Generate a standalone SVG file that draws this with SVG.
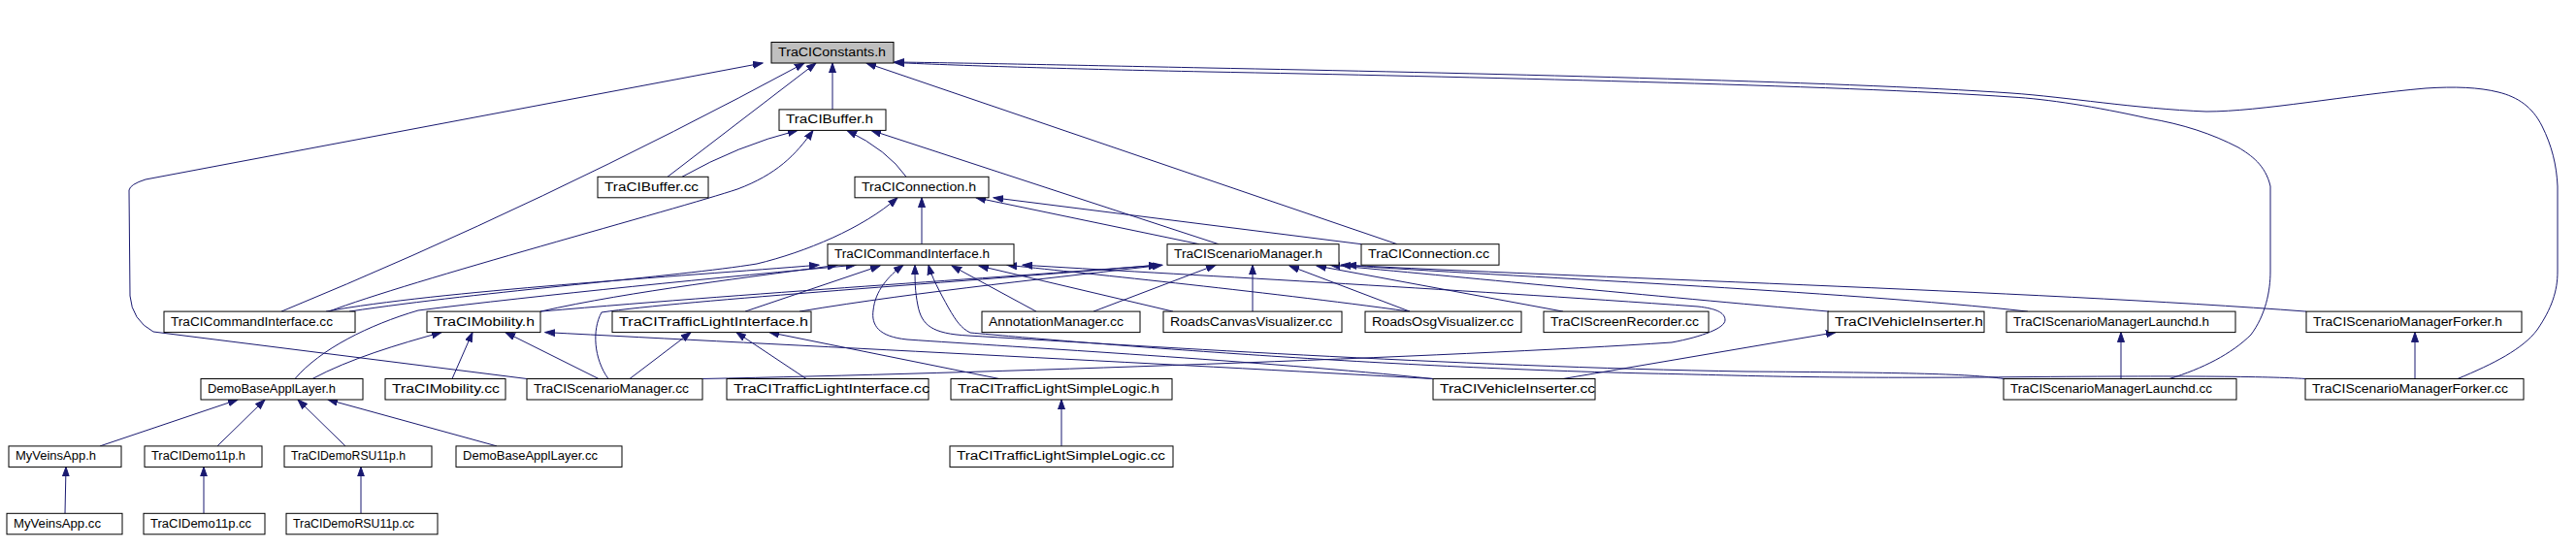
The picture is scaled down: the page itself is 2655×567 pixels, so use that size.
<svg xmlns="http://www.w3.org/2000/svg" width="2655" height="567" viewBox="0 0 2655 567">
<style>
.n rect{fill:#ffffff;stroke:#000000;stroke-width:1}
.n text{font-family:"Liberation Sans",Arial,sans-serif;font-size:12px;fill:#000000}
.root rect{fill:#bfbfbf}
.e path{fill:none;stroke:#191970;stroke-width:1;marker-end:url(#arr)}
</style>
<defs>
<marker id="arr" markerWidth="11" markerHeight="8" refX="10" refY="4" orient="auto" markerUnits="userSpaceOnUse">
<path d="M0,0.5 L10,4 L0,7.5 z" fill="#191970" stroke="#191970" stroke-width="1"/>
</marker>
</defs>
<rect width="2655" height="567" fill="#ffffff"/>
<g id="edges" class="e">
<path d="M858,112.9 L858,65"/>
<path d="M688,182.3 L841,65"/>
<path d="M290,321.1 Q560,210 829,65"/>
<path d="M543,390.5 L158,342 Q136,330 134,305 L133,196 Q134,190 150,185 L786,65"/>
<path d="M1440,251.7 L893,65"/>
<path d="M2236,390.5 C2270,380 2300,365 2320,345 C2335,325 2340,300 2340,280 L2340,192 C2335,170 2320,160 2307,152 C2280,138 2250,128 2214,122 C2160,110 2110,102 2073,100 C1900,88 1500,79 1244,74 C1100,71 1000,68 922,64.5"/>
<path d="M2533,390.5 C2570,375 2600,360 2615,340 C2630,318 2636,300 2636,280 L2636,192 C2635,170 2630,150 2620,130 C2610,110 2595,100 2575,95 C2555,90 2530,89 2500,91 C2420,98 2330,115 2274,115 C2200,112 2130,100 2073,96 C1900,84 1500,75 1244,70 C1100,67 1000,65 922,64"/>
<path d="M703,182.3 Q760,150 822,134.4"/>
<path d="M339,321.1 C420,290 700,215 760,195 C800,180 820,160 838,134.4"/>
<path d="M934,182.3 Q915,155 873,134.4"/>
<path d="M1256,251.7 L898,134.4"/>
<path d="M950,251.7 L950,203.8"/>
<path d="M360,321.1 C500,300 700,285 780,272 C830,260 890,235 925,203.8"/>
<path d="M1236,251.7 L1006,203.8"/>
<path d="M1403,251.7 L1024,203.8"/>
<path d="M336,321.1 C450,300 700,285 844,273.2"/>
<path d="M557,321.1 C650,300 780,285 863,273.2"/>
<path d="M304,390.5 C330,360 380,335 431,320 C550,305 750,285 882,273.2"/>
<path d="M768,321.1 L907,274"/>
<path d="M1068,321.1 L981,274"/>
<path d="M1209,321.1 L1009,274"/>
<path d="M1453,321.1 C1300,300 1100,280 1038,273.2"/>
<path d="M724,390.5 C1000,385 1500,368 1723,353 C1755,347 1778,338 1778,330 C1778,322 1768,318 1750,316 C1500,298 1200,282 1054,273.2"/>
<path d="M1477,390.5 C1300,372 1050,358 935,350 C905,347 898,335 900,320 C902,300 915,285 931,273.2"/>
<path d="M2065,390.5 C2030,385 1950,384 1800,383 C1500,378 1150,355 998,346 C960,344 950,335 946,315 C943,300 943,290 943,273.2"/>
<path d="M2376,390.5 C2340,388 2250,387 2040,389 C1850,390 1800,387 1700,385 C1400,378 1100,352 1000,343 C990,338 985,330 978,318 C968,300 960,285 957,273.2"/>
<path d="M557,321.1 C800,300 1050,285 1194,273.2"/>
<path d="M627,390.5 C612,370 610,340 620,322 C700,310 1000,290 1194,273.2"/>
<path d="M824,321.1 C950,300 1100,285 1198,273.2"/>
<path d="M1127,321.1 L1253,273.2"/>
<path d="M1291,321.1 L1291,273.2"/>
<path d="M1453,321.1 L1329,274"/>
<path d="M1611,321.1 L1357,274"/>
<path d="M1885,321.1 C1700,305 1500,285 1371,273.2"/>
<path d="M2090,321.1 C1900,300 1550,285 1382,273.2"/>
<path d="M2377,321.1 C2100,300 1600,285 1388,273.2"/>
<path d="M466,390.5 L487,342.6"/>
<path d="M322,390.5 C360,370 410,355 455,342.6"/>
<path d="M617,390.5 L521,342.6"/>
<path d="M1477,390.5 C1200,375 800,355 562,342.6"/>
<path d="M649,390.5 L712,342.6"/>
<path d="M831,390.5 L759,342.6"/>
<path d="M1030,390.5 L793,342.6"/>
<path d="M1611,390.5 L1892,342.6"/>
<path d="M2186,390.5 L2186,342.6"/>
<path d="M2489,390.5 L2489,342.6"/>
<path d="M1094,459.9 L1094,412"/>
<path d="M103,459.9 L245,412"/>
<path d="M224,459.9 L273,412"/>
<path d="M356,459.9 L307,412"/>
<path d="M512,459.9 L338,412"/>
<path d="M67,529.3 L68,481.4"/>
<path d="M210,529.3 L210,481.4"/>
<path d="M372,529.3 L372,481.4"/>
</g>
<g id="n0" class="n root"><rect x="795" y="43.5" width="126" height="21.5"/><text x="802" y="58" textLength="111" lengthAdjust="spacingAndGlyphs">TraCIConstants.h</text></g>
<g id="n1" class="n"><rect x="803" y="112.9" width="110" height="21.5"/><text x="810" y="127.4" textLength="90" lengthAdjust="spacingAndGlyphs">TraCIBuffer.h</text></g>
<g id="n2" class="n"><rect x="616" y="182.3" width="114" height="21.5"/><text x="623" y="196.8" textLength="97" lengthAdjust="spacingAndGlyphs">TraCIBuffer.cc</text></g>
<g id="n3" class="n"><rect x="881" y="182.3" width="138" height="21.5"/><text x="888" y="196.8" textLength="118" lengthAdjust="spacingAndGlyphs">TraCIConnection.h</text></g>
<g id="n4" class="n"><rect x="853" y="251.7" width="192" height="21.5"/><text x="860" y="266.2" textLength="160" lengthAdjust="spacingAndGlyphs">TraCICommandInterface.h</text></g>
<g id="n5" class="n"><rect x="1203" y="251.7" width="177" height="21.5"/><text x="1210" y="266.2" textLength="153" lengthAdjust="spacingAndGlyphs">TraCIScenarioManager.h</text></g>
<g id="n6" class="n"><rect x="1403" y="251.7" width="142" height="21.5"/><text x="1410" y="266.2" textLength="125" lengthAdjust="spacingAndGlyphs">TraCIConnection.cc</text></g>
<g id="n7" class="n"><rect x="169" y="321.1" width="197" height="21.5"/><text x="176" y="335.6" textLength="167" lengthAdjust="spacingAndGlyphs">TraCICommandInterface.cc</text></g>
<g id="n8" class="n"><rect x="440" y="321.1" width="117" height="21.5"/><text x="447" y="335.6" textLength="104" lengthAdjust="spacingAndGlyphs">TraCIMobility.h</text></g>
<g id="n9" class="n"><rect x="631" y="321.1" width="205" height="21.5"/><text x="638" y="335.6" textLength="195" lengthAdjust="spacingAndGlyphs">TraCITrafficLightInterface.h</text></g>
<g id="n10" class="n"><rect x="1012" y="321.1" width="163" height="21.5"/><text x="1019" y="335.6" textLength="139" lengthAdjust="spacingAndGlyphs">AnnotationManager.cc</text></g>
<g id="n11" class="n"><rect x="1199" y="321.1" width="184" height="21.5"/><text x="1206" y="335.6" textLength="167" lengthAdjust="spacingAndGlyphs">RoadsCanvasVisualizer.cc</text></g>
<g id="n12" class="n"><rect x="1407" y="321.1" width="161" height="21.5"/><text x="1414" y="335.6" textLength="146" lengthAdjust="spacingAndGlyphs">RoadsOsgVisualizer.cc</text></g>
<g id="n13" class="n"><rect x="1591" y="321.1" width="170" height="21.5"/><text x="1598" y="335.6" textLength="153" lengthAdjust="spacingAndGlyphs">TraCIScreenRecorder.cc</text></g>
<g id="n14" class="n"><rect x="1884" y="321.1" width="161" height="21.5"/><text x="1891" y="335.6" textLength="153" lengthAdjust="spacingAndGlyphs">TraCIVehicleInserter.h</text></g>
<g id="n15" class="n"><rect x="2068" y="321.1" width="236" height="21.5"/><text x="2075" y="335.6" textLength="202" lengthAdjust="spacingAndGlyphs">TraCIScenarioManagerLaunchd.h</text></g>
<g id="n16" class="n"><rect x="2377" y="321.1" width="222" height="21.5"/><text x="2384" y="335.6" textLength="195" lengthAdjust="spacingAndGlyphs">TraCIScenarioManagerForker.h</text></g>
<g id="n17" class="n"><rect x="207" y="390.5" width="167" height="21.5"/><text x="214" y="405" textLength="132" lengthAdjust="spacingAndGlyphs">DemoBaseApplLayer.h</text></g>
<g id="n18" class="n"><rect x="397" y="390.5" width="124" height="21.5"/><text x="404" y="405" textLength="111" lengthAdjust="spacingAndGlyphs">TraCIMobility.cc</text></g>
<g id="n19" class="n"><rect x="543" y="390.5" width="181" height="21.5"/><text x="550" y="405" textLength="160" lengthAdjust="spacingAndGlyphs">TraCIScenarioManager.cc</text></g>
<g id="n20" class="n"><rect x="749" y="390.5" width="208" height="21.5"/><text x="756" y="405" textLength="202" lengthAdjust="spacingAndGlyphs">TraCITrafficLightInterface.cc</text></g>
<g id="n21" class="n"><rect x="980" y="390.5" width="228" height="21.5"/><text x="987" y="405" textLength="208" lengthAdjust="spacingAndGlyphs">TraCITrafficLightSimpleLogic.h</text></g>
<g id="n22" class="n"><rect x="1477" y="390.5" width="167" height="21.5"/><text x="1484" y="405" textLength="160" lengthAdjust="spacingAndGlyphs">TraCIVehicleInserter.cc</text></g>
<g id="n23" class="n"><rect x="2065" y="390.5" width="240" height="21.5"/><text x="2072" y="405" textLength="208" lengthAdjust="spacingAndGlyphs">TraCIScenarioManagerLaunchd.cc</text></g>
<g id="n24" class="n"><rect x="2376" y="390.5" width="225" height="21.5"/><text x="2383" y="405" textLength="202" lengthAdjust="spacingAndGlyphs">TraCIScenarioManagerForker.cc</text></g>
<g id="n25" class="n"><rect x="9" y="459.9" width="116" height="21.5"/><text x="16" y="474.4" textLength="83" lengthAdjust="spacingAndGlyphs">MyVeinsApp.h</text></g>
<g id="n26" class="n"><rect x="149" y="459.9" width="121" height="21.5"/><text x="156" y="474.4" textLength="97" lengthAdjust="spacingAndGlyphs">TraCIDemo11p.h</text></g>
<g id="n27" class="n"><rect x="293" y="459.9" width="152" height="21.5"/><text x="300" y="474.4" textLength="118" lengthAdjust="spacingAndGlyphs">TraCIDemoRSU11p.h</text></g>
<g id="n28" class="n"><rect x="470" y="459.9" width="171" height="21.5"/><text x="477" y="474.4" textLength="139" lengthAdjust="spacingAndGlyphs">DemoBaseApplLayer.cc</text></g>
<g id="n29" class="n"><rect x="979" y="459.9" width="230" height="21.5"/><text x="986" y="474.4" textLength="215" lengthAdjust="spacingAndGlyphs">TraCITrafficLightSimpleLogic.cc</text></g>
<g id="n30" class="n"><rect x="7" y="529.3" width="119" height="21.5"/><text x="14" y="543.8" textLength="90" lengthAdjust="spacingAndGlyphs">MyVeinsApp.cc</text></g>
<g id="n31" class="n"><rect x="148" y="529.3" width="125" height="21.5"/><text x="155" y="543.8" textLength="104" lengthAdjust="spacingAndGlyphs">TraCIDemo11p.cc</text></g>
<g id="n32" class="n"><rect x="295" y="529.3" width="156" height="21.5"/><text x="302" y="543.8" textLength="125" lengthAdjust="spacingAndGlyphs">TraCIDemoRSU11p.cc</text></g>
</svg>
